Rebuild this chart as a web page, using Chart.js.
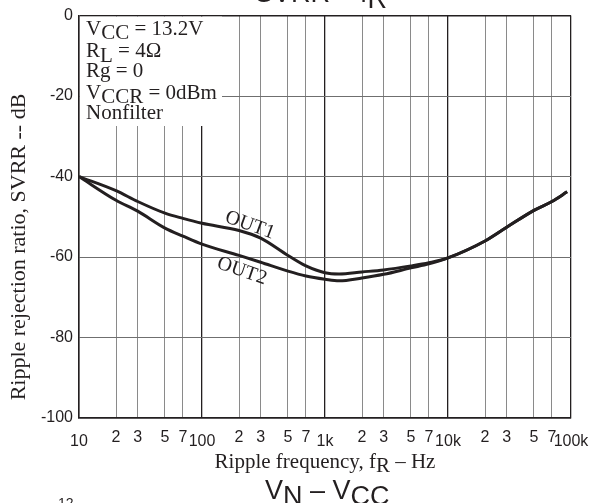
<!DOCTYPE html>
<html>
<head>
<meta charset="utf-8">
<script src="https://cdn.jsdelivr.net/npm/chart.js@4.4.1/dist/chart.umd.min.js"></script>
<style>
  html, body { margin: 0; padding: 0; background: #fff; }
  #wrap { width: 590px; height: 503px; }
</style>
</head>
<body>
<div id="wrap"><canvas id="chart"></canvas></div>
<script>
// Ripple frequency (Hz) and ripple rejection (dB)
const freqs = [10, 20, 30, 50, 70, 100, 200, 300, 500, 700, 1000, 1300, 2000, 3000, 5000, 7000, 10000, 20000, 30000, 50000, 70000, 93000];
const out1  = [-40, -43.5, -46.2, -49.1, -50.4, -51.6, -53.4, -55.3, -59.6, -62.2, -63.9, -64.2, -63.7, -63.2, -62.2, -61.4, -60.2, -56, -52.6, -48.4, -46.2, -43.8];
const out2  = [-40, -45.9, -48.6, -52.8, -54.8, -56.8, -59.6, -61.3, -63.5, -64.7, -65.5, -65.9, -65.2, -64.3, -62.7, -61.7, -60.2, -56, -52.6, -48.4, -46.2, -43.8];

const xTicks      = [10, 20, 30, 50, 70, 100, 200, 300, 500, 700, 1000, 2000, 3000, 5000, 7000, 10000, 20000, 30000, 50000, 70000, 100000];
const xTickLabels = ['10', '2', '3', '5', '7', '100', '2', '3', '5', '7', '1k', '2', '3', '5', '7', '10k', '2', '3', '5', '7', '100k'];
const yTicks      = [0, -20, -40, -60, -80, -100];

// text runs: [text, baseline shift]
const conditions = [
    [['V', 0], ['CC', 4], [' = 13.2V', 0]],
    [['R', 0], ['L', 5], [' = 4Ω', 0]],
    [['Rg = 0', 0]],
    [['V', 0], ['CCR', 4], [' = 0dBm', 0]],
    [['Nonfilter', 0]],
];

const INK   = '#231f20';
const SERIF = '"Liberation Serif", "Times New Roman", serif';
const SANS  = '"Liberation Sans", Arial, sans-serif';
const isDecade = v => Math.abs(Math.log10(v) - Math.round(Math.log10(v))) < 1e-6;

function runs(ctx, x, y, parts) {
    parts.forEach(([t, dy]) => {
        ctx.fillText(t, x, y + dy);
        x += ctx.measureText(t).width;
    });
}
function runsWidth(ctx, parts) {
    return parts.reduce((w, [t]) => w + ctx.measureText(t).width, 0);
}

const annotations = {
    id: 'annotations',
    beforeDatasetsDraw(chart) {
        const { ctx, chartArea: a } = chart;
        // conditions box hides the grid behind it
        ctx.save();
        ctx.fillStyle = '#fff';
        ctx.fillRect(a.left + 1, a.top + 1, 222 - a.left - 1, 126 - a.top - 1);
        ctx.restore();
    },
    afterDraw(chart) {
        const { ctx, chartArea: a, scales: { x, y } } = chart;
        ctx.save();
        ctx.fillStyle = INK;
        ctx.textBaseline = 'alphabetic';

        // conditions
        ctx.font = `21px ${SERIF}`;
        const base = [35, 57, 77, 99, 119];
        conditions.forEach((line, i) => runs(ctx, 86, base[i], line));

        // x tick labels (decades sit a little lower)
        ctx.font = `16px ${SANS}`;
        ctx.textAlign = 'center';
        ctx.textBaseline = 'middle';
        xTicks.forEach((v, i) => {
            ctx.fillText(xTickLabels[i], x.getPixelForValue(v), isDecade(v) ? a.bottom + 24 : a.bottom + 20);
        });

        // curve labels
        ctx.font = `20px ${SERIF}`;
        [['OUT1', 245, -52.1, 20], ['OUT2', 211, -63.5, 19]].forEach(([t, f, db, deg]) => {
            ctx.save();
            ctx.translate(x.getPixelForValue(f), y.getPixelForValue(db));
            ctx.rotate(deg * Math.PI / 180);
            ctx.fillText(t, 0, 0);
            ctx.restore();
        });

        // axis titles
        ctx.textAlign = 'left';
        ctx.textBaseline = 'alphabetic';
        ctx.font = `21px ${SERIF}`;
        const xt = [['Ripple frequency, f', 0], ['R', 4], [' – Hz', 0]];
        runs(ctx, (a.left + a.right) / 2 - runsWidth(ctx, xt) / 2, 468, xt);

        ctx.font = `22px ${SERIF}`;
        ctx.save();
        ctx.translate(25, 247);
        ctx.rotate(-Math.PI / 2);
        ctx.textAlign = 'center';
        ctx.fillText('Ripple rejection ratio, SVRR -- dB', 0, 0);
        ctx.restore();

        // page headings cut by the crop
        ctx.font = `27px ${SANS}`;
        runs(ctx, 255, 2, [['SVRR – f', 0], ['R', 6]]);
        runs(ctx, 265, 499, [['V', 0], ['N', 6], [' – V', 0], ['CC', 6]]);
        ctx.font = `14px ${SANS}`;
        ctx.fillText('12', 58, 508);
        ctx.restore();
    },
};

new Chart(document.getElementById('chart'), {
    type: 'line',
    data: {
        datasets: [
            { label: 'OUT1', data: freqs.map((f, i) => ({ x: f, y: out1[i] })) },
            { label: 'OUT2', data: freqs.map((f, i) => ({ x: f, y: out2[i] })) },
        ].map(d => ({
            ...d,
            borderColor: INK,
            borderWidth: 3,
            pointRadius: 0,
            cubicInterpolationMode: 'monotone',
            fill: false,
        })),
    },
    options: {
        responsive: true,
        maintainAspectRatio: false,
        animation: false,
        layout: { padding: { top: 13, right: 19, left: 0, bottom: 0 } },
        plugins: { legend: { display: false }, tooltip: { enabled: false } },
        scales: {
            x: {
                type: 'logarithmic',
                min: 10,
                max: 100000,
                afterBuildTicks: s => { s.ticks = xTicks.map(v => ({ value: v })); },
                afterFit: s => { s.height = 85; },
                ticks: { display: false },
                grid: {
                    drawTicks: false,
                    color: c => isDecade(c.tick.value) ? INK : '#8a8a8a',
                    lineWidth: c => isDecade(c.tick.value) ? 1.3 : 1,
                },
                border: { display: true, color: INK, width: 1.5 },
            },
            y: {
                min: -100,
                max: 0,
                afterBuildTicks: s => { s.ticks = yTicks.map(v => ({ value: v })); },
                afterFit: s => { s.width = 79; },
                ticks: {
                    padding: 6,
                    color: INK,
                    font: { family: SANS, size: 16 },
                    callback: v => String(v),
                },
                grid: {
                    drawTicks: false,
                    color: c => (c.tick.value === 0 || c.tick.value === -100) ? INK : '#6f6f6f',
                    lineWidth: c => (c.tick.value === 0 || c.tick.value === -100) ? 1.5 : 1,
                },
                border: { display: true, color: INK, width: 1.5 },
            },
        },
    },
    plugins: [annotations],
});
</script>
</body>
</html>
